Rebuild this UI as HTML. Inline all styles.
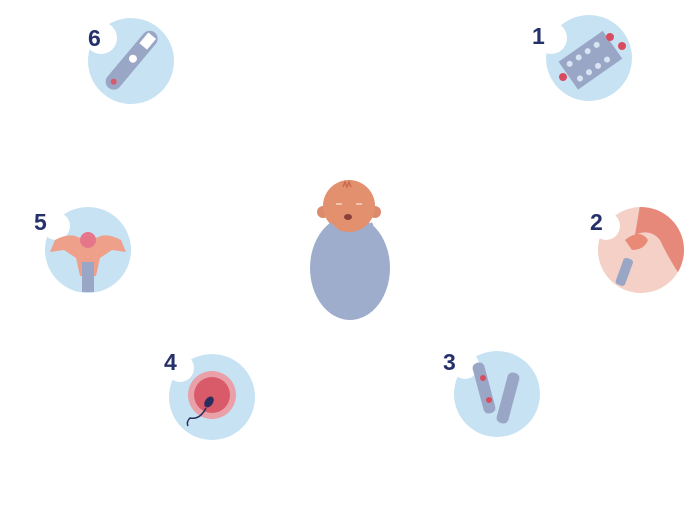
<!DOCTYPE html>
<html><head><meta charset="utf-8"><style>
html,body{margin:0;padding:0;background:#fff;width:700px;height:505px;overflow:hidden}
svg{display:block}
text{font-family:"Liberation Sans",sans-serif;font-weight:bold;fill:#26306b;font-size:23px}
</style></head><body>
<svg width="700" height="505" viewBox="0 0 700 505">
<defs><clipPath id="c2"><circle cx="641" cy="250" r="43"/></clipPath></defs>
<!-- 6 -->
<circle cx="131" cy="61" r="43" fill="#c7e3f3"/><circle cx="101" cy="38" r="16" fill="#fff"/>
<g transform="rotate(-50 131 61)"><rect x="96" y="53" width="72" height="16" rx="8" fill="#9aa6c6"/><rect x="150" y="56" width="14" height="10" fill="#fff"/><circle cx="134" cy="61" r="4" fill="#fff"/><circle cx="104" cy="61" r="3" fill="#d95a6a"/></g>
<text x="88" y="46">6</text>
<!-- 1 -->
<circle cx="589" cy="58" r="43" fill="#c7e3f3"/><circle cx="551" cy="38" r="16" fill="#fff"/>
<g transform="rotate(-35 589 60)"><rect x="563" y="44" width="54" height="34" fill="#9aa6c6"/>
<g fill="#d9e4f2"><circle cx="571" cy="52" r="3"/><circle cx="582" cy="52" r="3"/><circle cx="593" cy="52" r="3"/><circle cx="604" cy="52" r="3"/><circle cx="571" cy="70" r="3"/><circle cx="582" cy="70" r="3"/><circle cx="593" cy="70" r="3"/><circle cx="604" cy="70" r="3"/></g></g>
<g fill="#d94c60"><circle cx="610" cy="37" r="4"/><circle cx="622" cy="46" r="4"/><circle cx="563" cy="77" r="4"/></g>
<text x="532" y="44">1</text>
<!-- 5 -->
<circle cx="88" cy="250" r="43" fill="#c7e3f3"/><circle cx="56" cy="226" r="14" fill="#fff"/>
<path d="M55 240 Q70 232 80 238 L96 238 Q106 232 121 240 L126 252 L112 250 L100 258 L96 276 L80 276 L76 258 L64 250 L50 252 Z" fill="#eea08a"/>
<circle cx="88" cy="240" r="8" fill="#e6768a"/><rect x="82" y="262" width="12" height="30" fill="#9aa6c6"/>
<text x="34" y="230">5</text>
<!-- 2 -->
<circle cx="641" cy="250" r="43" fill="#f4d0c6"/>
<g clip-path="url(#c2)">
<path d="M640 205 Q670 205 690 230 L690 290 Q670 262 660 240 Q650 228 635 235 Z" fill="#e7897a"/>
<path d="M625 240 Q640 228 648 240 Q644 250 632 250 Z" fill="#e98a76"/>
<rect x="620" y="258" width="10" height="28" rx="3" fill="#9aa6c6" transform="rotate(20 625 270)"/>
</g>
<circle cx="606" cy="226" r="14" fill="#fff"/>
<text x="590" y="230">2</text>
<!-- 4 -->
<circle cx="212" cy="397" r="43" fill="#c7e3f3"/><circle cx="180" cy="368" r="14" fill="#fff"/>
<circle cx="212" cy="395" r="24" fill="#e9a0a8"/><circle cx="212" cy="395" r="18" fill="#d95a68"/>
<ellipse cx="209" cy="402" rx="4" ry="6" fill="#2a2e5e" transform="rotate(35 209 402)"/>
<path d="M206 408 Q200 420 190 418 Q186 422 188 426" stroke="#2a2e5e" stroke-width="1.5" fill="none"/>
<text x="164" y="370">4</text>
<!-- 3 -->
<circle cx="497" cy="394" r="43" fill="#c7e3f3"/><circle cx="465" cy="365" r="14" fill="#fff"/>
<rect x="478" y="362" width="12" height="52" rx="5" fill="#9aa6c6" transform="rotate(-15 484 388)"/>
<rect x="502" y="372" width="12" height="52" rx="5" fill="#9aa6c6" transform="rotate(15 508 398)"/>
<circle cx="483" cy="378" r="3" fill="#d94c60"/><circle cx="489" cy="400" r="3" fill="#d94c60"/>
<text x="443" y="370">3</text>
<!-- baby -->
<ellipse cx="350" cy="268" rx="40" ry="52" fill="#9fadcc"/>
<circle cx="323" cy="212" r="6" fill="#dd8a6c"/><circle cx="375" cy="212" r="6" fill="#dd8a6c"/>
<circle cx="349" cy="206" r="26" fill="#e3906f"/>
<path d="M330 222 L350 240 L372 222 L376 232 L350 244 L326 232 Z" fill="#9fadcc"/>
<ellipse cx="348" cy="217" rx="4" ry="3" fill="#8a3f3a"/>
<path d="M336 204 h6 M356 204 h6" stroke="#f6d6c8" stroke-width="1.5"/>
<path d="M343 187 l2 -5 l2 5 l2 -5 l2 5" stroke="#c66a50" stroke-width="1.5" fill="none"/>
</svg>
</body></html>
